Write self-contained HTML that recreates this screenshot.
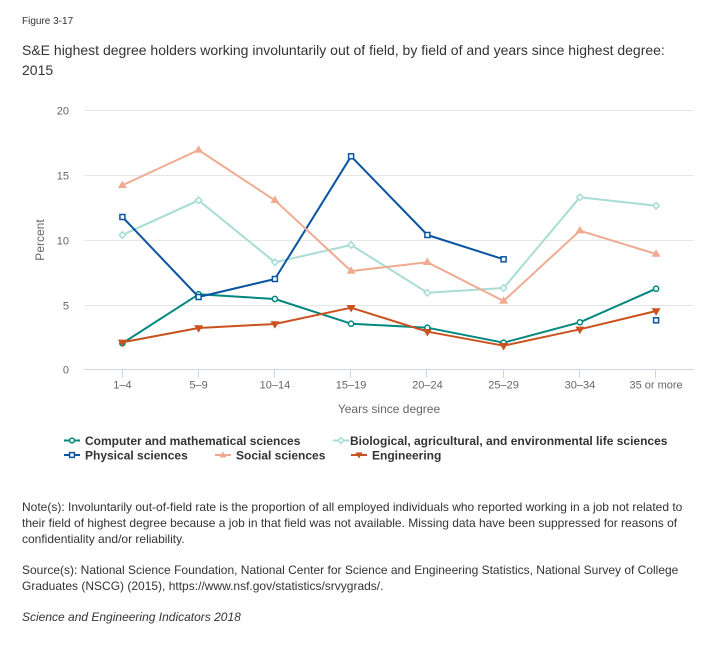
<!DOCTYPE html>
<html>
<head>
<meta charset="utf-8">
<style>
  html,body{margin:0;padding:0;background:#fff;}
  body{width:724px;height:648px;overflow:hidden;position:relative;font-family:"Liberation Sans",Arial,sans-serif;color:#333;}
  .fig{position:absolute;left:22px;top:16px;font-size:10px;color:#333;}
  .title{position:absolute;left:22px;top:40px;width:645px;font-size:14px;line-height:20px;color:#333;}
  .notes{position:absolute;left:22px;top:499px;width:672px;font-size:12px;line-height:16px;color:#333;}
  .notes p{margin:0 0 15px 0;}
  svg{position:absolute;left:0;top:0;}
</style>
</head>
<body>
<div class="fig">Figure 3-17</div>
<div class="title">S&amp;E highest degree holders working involuntarily out of field, by field of and years since highest degree: 2015</div>

<svg width="724" height="648" viewBox="0 0 724 648" font-family="Liberation Sans, Arial, sans-serif">
  <!-- gridlines -->
  <g stroke="#e6e6e6" stroke-width="1">
    <line x1="84" y1="110.5" x2="694" y2="110.5"/>
    <line x1="84" y1="175.5" x2="694" y2="175.5"/>
    <line x1="84" y1="240.5" x2="694" y2="240.5"/>
    <line x1="84" y1="305.5" x2="694" y2="305.5"/>
  </g>
  <!-- x axis -->
  <line x1="84" y1="369.5" x2="694" y2="369.5" stroke="#ccd6eb" stroke-width="1"/>
  <g stroke="#ccd6eb" stroke-width="1">
    <line x1="122.5" y1="370" x2="122.5" y2="378"/>
    <line x1="198.5" y1="370" x2="198.5" y2="378"/>
    <line x1="274.5" y1="370" x2="274.5" y2="378"/>
    <line x1="350.5" y1="370" x2="350.5" y2="378"/>
    <line x1="426.5" y1="370" x2="426.5" y2="378"/>
    <line x1="503.5" y1="370" x2="503.5" y2="378"/>
    <line x1="579.5" y1="370" x2="579.5" y2="378"/>
    <line x1="655.5" y1="370" x2="655.5" y2="378"/>
  </g>
  <!-- y labels -->
  <g font-size="11" fill="#666" text-anchor="end">
    <text x="69" y="114.5">20</text>
    <text x="69" y="179.5">15</text>
    <text x="69" y="244.5">10</text>
    <text x="69" y="309.5">5</text>
    <text x="69" y="373.5">0</text>
  </g>
  <text x="44" y="240" font-size="12" fill="#666" text-anchor="middle" transform="rotate(-90 44 240)">Percent</text>
  <!-- x labels -->
  <g font-size="11" fill="#666" text-anchor="middle">
    <text x="122.4" y="388.5">1–4</text>
    <text x="198.6" y="388.5">5–9</text>
    <text x="274.9" y="388.5">10–14</text>
    <text x="351.1" y="388.5">15–19</text>
    <text x="427.4" y="388.5">20–24</text>
    <text x="503.6" y="388.5">25–29</text>
    <text x="579.9" y="388.5">30–34</text>
    <text x="656.1" y="388.5">35 or more</text>
  </g>
  <text x="389" y="413" font-size="12" fill="#666" text-anchor="middle">Years since degree</text>

  <!-- Computer -->
  <polyline fill="none" stroke="#00877e" stroke-width="2" stroke-linejoin="round" points="122.4,343.3 198.6,294.3 274.9,299 351.1,323.7 427.4,327.7 503.6,342.7 579.9,322.3 656.1,288.7"/>
  <g fill="#fff" stroke="#00877e" stroke-width="1.5">
    <circle cx="122.4" cy="343.3" r="2.6"/><circle cx="198.6" cy="294.3" r="2.6"/><circle cx="274.9" cy="299" r="2.6"/><circle cx="351.1" cy="323.7" r="2.6"/><circle cx="427.4" cy="327.7" r="2.6"/><circle cx="503.6" cy="342.7" r="2.6"/><circle cx="579.9" cy="322.3" r="2.6"/><circle cx="656.1" cy="288.7" r="2.6"/>
  </g>

  <!-- Bio -->
  <polyline fill="none" stroke="#a8dcd5" stroke-width="2" stroke-linejoin="round" points="122.4,235 198.6,200.3 274.9,262.3 351.1,245 427.4,292.7 503.6,288 579.9,197.3 656.1,205.7"/>
  <g fill="#fff" stroke="#a8dcd5" stroke-width="1.5">
    <path d="M122.4 231.8 L125.6 235 L122.4 238.2 L119.2 235 Z"/>
    <path d="M198.6 197.1 L201.8 200.3 L198.6 203.5 L195.4 200.3 Z"/>
    <path d="M274.9 259.1 L278.1 262.3 L274.9 265.5 L271.7 262.3 Z"/>
    <path d="M351.1 241.8 L354.3 245 L351.1 248.2 L347.9 245 Z"/>
    <path d="M427.4 289.5 L430.6 292.7 L427.4 295.9 L424.2 292.7 Z"/>
    <path d="M503.6 284.8 L506.8 288 L503.6 291.2 L500.4 288 Z"/>
    <path d="M579.9 194.1 L583.1 197.3 L579.9 200.5 L576.7 197.3 Z"/>
    <path d="M656.1 202.5 L659.3 205.7 L656.1 208.9 L652.9 205.7 Z"/>
  </g>

  <!-- Physical -->
  <polyline fill="none" stroke="#0a54a0" stroke-width="2" stroke-linejoin="round" points="122.4,217 198.6,297 274.9,279 351.1,156.3 427.4,235 503.6,259.3"/>
  <g fill="#fff" stroke="#0a54a0" stroke-width="1.5">
    <rect x="119.9" y="214.5" width="5" height="5"/>
    <rect x="196.1" y="294.5" width="5" height="5"/>
    <rect x="272.4" y="276.5" width="5" height="5"/>
    <rect x="348.6" y="153.8" width="5" height="5"/>
    <rect x="424.9" y="232.5" width="5" height="5"/>
    <rect x="501.1" y="256.8" width="5" height="5"/>
    <rect x="653.6" y="317.8" width="5" height="5"/>
  </g>

  <!-- Social -->
  <polyline fill="none" stroke="#efab91" stroke-width="2" stroke-linejoin="round" points="122.4,185.3 198.6,150 274.9,200.3 351.1,271 427.4,262.3 503.6,301 579.9,230.7 656.1,254"/>
  <g fill="#efab91" stroke="#efab91" stroke-width="1">
    <path d="M122.4 181.5 L126 187.5 L118.8 187.5 Z"/>
    <path d="M198.6 146.2 L202.2 152.2 L195 152.2 Z"/>
    <path d="M274.9 196.5 L278.5 202.5 L271.3 202.5 Z"/>
    <path d="M351.1 267.2 L354.7 273.2 L347.5 273.2 Z"/>
    <path d="M427.4 258.5 L431 264.5 L423.8 264.5 Z"/>
    <path d="M503.6 297.2 L507.2 303.2 L500 303.2 Z"/>
    <path d="M579.9 226.9 L583.5 232.9 L576.3 232.9 Z"/>
    <path d="M656.1 250.2 L659.7 256.2 L652.5 256.2 Z"/>
  </g>

  <!-- Engineering -->
  <polyline fill="none" stroke="#c9521e" stroke-width="2" stroke-linejoin="round" points="122.4,342.3 198.6,328 274.9,324 351.1,307.7 427.4,331.7 503.6,345.7 579.9,329.3 656.1,311"/>
  <g fill="#c9521e" stroke="#c9521e" stroke-width="1">
    <path d="M122.4 346.1 L126 340.1 L118.8 340.1 Z"/>
    <path d="M198.6 331.8 L202.2 325.8 L195 325.8 Z"/>
    <path d="M274.9 327.8 L278.5 321.8 L271.3 321.8 Z"/>
    <path d="M351.1 311.5 L354.7 305.5 L347.5 305.5 Z"/>
    <path d="M427.4 335.5 L431 329.5 L423.8 329.5 Z"/>
    <path d="M503.6 349.5 L507.2 343.5 L500 343.5 Z"/>
    <path d="M579.9 333.1 L583.5 327.1 L576.3 327.1 Z"/>
    <path d="M656.1 314.8 L659.7 308.8 L652.5 308.8 Z"/>
  </g>

  <!-- Legend -->
  <g font-size="12" font-weight="bold" fill="#333">
    <line x1="64" y1="440.5" x2="80" y2="440.5" stroke="#00877e" stroke-width="2"/>
    <circle cx="72" cy="440.5" r="2.4" fill="#fff" stroke="#00877e" stroke-width="1.5"/>
    <text x="85" y="445">Computer and mathematical sciences</text>

    <line x1="333" y1="440.5" x2="349" y2="440.5" stroke="#a8dcd5" stroke-width="2"/>
    <path d="M341 437.5 L344 440.5 L341 443.5 L338 440.5 Z" fill="#fff" stroke="#a8dcd5" stroke-width="1.5"/>
    <text x="350" y="445">Biological, agricultural, and environmental life sciences</text>

    <line x1="64" y1="455" x2="80" y2="455" stroke="#0a54a0" stroke-width="2"/>
    <rect x="69.6" y="452.6" width="4.8" height="4.8" fill="#fff" stroke="#0a54a0" stroke-width="1.5"/>
    <text x="85" y="459.5">Physical sciences</text>

    <line x1="215" y1="455" x2="231" y2="455" stroke="#efab91" stroke-width="2"/>
    <path d="M223 451.5 L226.5 457.5 L219.5 457.5 Z" fill="#efab91"/>
    <text x="236" y="459.5">Social sciences</text>

    <line x1="351" y1="455" x2="367" y2="455" stroke="#c9521e" stroke-width="2"/>
    <path d="M359 458.5 L362.5 452.5 L355.5 452.5 Z" fill="#c9521e"/>
    <text x="372" y="459.5">Engineering</text>
  </g>
</svg>

<div class="notes">
  <p>Note(s): Involuntarily out-of-field rate is the proportion of all employed individuals who reported working in a job not related to their field of highest degree because a job in that field was not available. Missing data have been suppressed for reasons of confidentiality and/or reliability.</p>
  <p>Source(s): National Science Foundation, National Center for Science and Engineering Statistics, National Survey of College Graduates (NSCG) (2015), https://www.nsf.gov/statistics/srvygrads/.</p>
  <p><i>Science and Engineering Indicators 2018</i></p>
</div>
</body>
</html>
